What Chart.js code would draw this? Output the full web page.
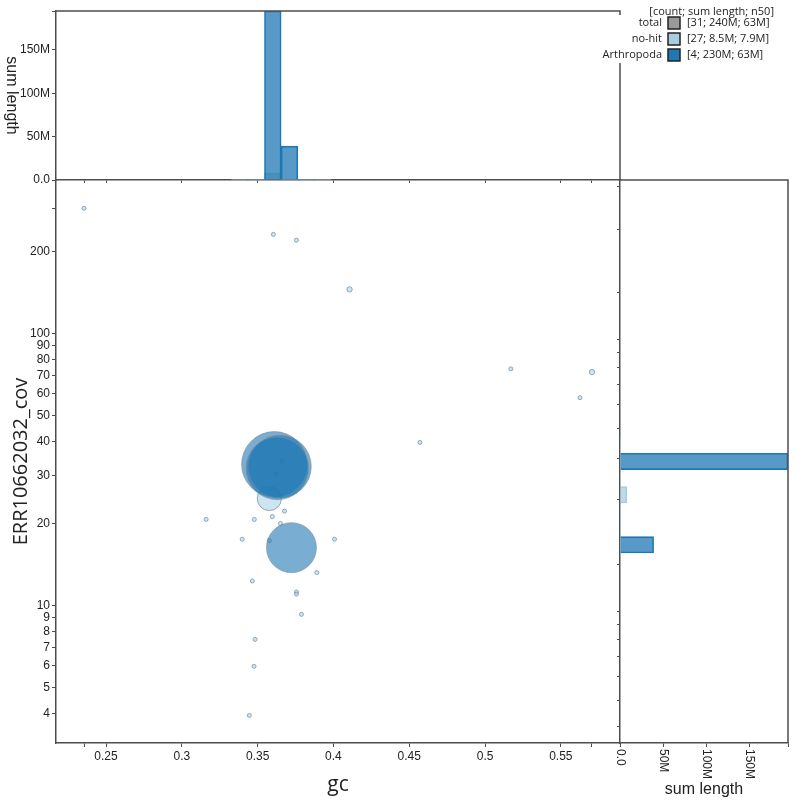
<!DOCTYPE html>
<html>
<head>
<meta charset="utf-8">
<script src="https://cdn.jsdelivr.net/npm/chart.js@4.4.1/dist/chart.umd.min.js"></script>
<style>
    body { margin: 0; background: #fff; }
    #wrap { position: relative; width: 800px; height: 800px; }
    #wrap canvas { position: absolute; left: 0; top: 0; }
</style>
</head>
<body>
<div id="wrap">
    <canvas id="chart_main" width="800" height="800"></canvas>
    <canvas id="chart_top" width="800" height="800"></canvas>
    <canvas id="chart_right" width="800" height="800"></canvas>
</div>
<script>
// contigs, length in Mb
const NOHIT_GC = [0.2355, 0.3604, 0.3756, 0.4106, 0.517, 0.5705, 0.5626, 0.457, 0.3478, 0.3597, 0.3677, 0.365, 0.3398,
    0.3577, 0.4007, 0.389, 0.3465, 0.3756, 0.3756, 0.3789, 0.316, 0.3483, 0.3476, 0.3445, 0.3577, 0.3620, 0.3660];
const NOHIT_COV = [288, 231, 220, 145, 74, 72, 58, 39.7, 20.7, 21.2, 22.2, 20.0, 17.5,
    17.3, 17.5, 13.2, 12.3, 11.2, 11.0, 9.27, 20.7, 7.5, 5.97, 3.94, 24.7, 30.5, 34.0];
const NOHIT_LEN = [0.02, 0.02, 0.02, 0.1, 0.02, 0.1, 0.02, 0.02, 0.02, 0.02, 0.02, 0.02, 0.02,
    0.02, 0.02, 0.02, 0.02, 0.02, 0.02, 0.02, 0.02, 0.02, 0.02, 0.02, 7.9, 0.02, 0.02];
const ARTH_GC = [0.3610, 0.3647, 0.3630, 0.3723];
const ARTH_COV = [33.0, 32.4, 31.9, 16.3];
const ARTH_LEN = [69, 63, 63, 39];

// histogram bins (sum length, Mb)
const GC_BINS = [0.3380, 0.3490, 0.3600, 0.3710, 0.3820, 0.3930];
const GC_BIN_NOHIT = [0.02, 0.10, 8.0, 0.10, 0.02, 0.02];
const GC_BIN_ARTH = [0, 0, 195, 39, 0, 0];
const COV_BINS = [38.9, 33.8, 29.3, 25.5, 22.1, 19.2, 16.7, 14.5];
const COV_BIN_NOHIT = [0.02, 0.02, 0.02, 7.9, 0.08, 0.02, 0.06, 0];
const COV_BIN_ARTH = [0, 195, 0, 0, 0, 0, 39, 0];

// axes
const GC_RANGE = [0.217, 0.589];
const GC_TICKS = [0.25, 0.3, 0.35, 0.4, 0.45, 0.5, 0.55];
const GC_EXTENT = [0.2355, 0.5705];
const COV_RANGE = [3.12, 366];
const COV_TICKS = [4, 5, 6, 7, 8, 9, 10, 20, 30, 40, 50, 60, 70, 80, 90, 100, 200];
const COV_MAX = 288;
const LEN_TICKS = [0, 50, 100, 150];
const LEN_MAX = 195;

const LEGEND_LABELS = ['total', 'no-hit', 'Arthropoda'];
const LEGEND_STATS = ['[31; 240M; 63M]', '[27; 8.5M; 7.9M]', '[4; 230M; 63M]'];
const LEGEND_COLOURS = ['#999999', '#a6cee3', '#1f78b4'];

const AXIS = '#4d4d4d';
const TEXT = '#222';
const TICK_FONT = { family: 'Liberation Sans', size: 12 };

function radius(len) {
    return 1.5 + 3.76 * Math.sqrt(len);
}
function fmtLen(v) {
    return v === 0 ? '0.0' : v + 'M';
}
function setTicks(values) {
    return function (scale) { scale.ticks = values.map(function (v) { return { value: v }; }); };
}
function fixSize(w, h) {
    return function (scale) {
        if (w !== null) scale.width = w;
        if (h !== null) scale.height = h;
        scale.paddingLeft = scale.paddingRight = scale.paddingTop = scale.paddingBottom = 0;
    };
}

const framePlugin = {
    id: 'frame',
    afterDraw(chart) {
        const ctx = chart.ctx, a = chart.chartArea;
        ctx.save();
        ctx.strokeStyle = AXIS;
        ctx.lineWidth = 1.5;
        ctx.beginPath();
        ctx.moveTo(a.left, a.top);
        ctx.lineTo(a.right, a.top);
        ctx.lineTo(a.right, a.bottom);
        ctx.stroke();
        ctx.restore();
    }
};

const common = {
    responsive: false,
    animation: false,
    devicePixelRatio: 1,
    plugins: { legend: { display: false }, tooltip: { enabled: false } }
};

// main blob plot
new Chart(document.getElementById('chart_main'), {
    type: 'bubble',
    data: {
        datasets: [{
            label: 'Arthropoda',
            data: ARTH_GC.map(function (g, i) { return { x: g, y: ARTH_COV[i], r: radius(ARTH_LEN[i]) }; }),
            backgroundColor: 'rgba(31,120,180,0.6)',
            borderColor: 'rgba(130,140,150,0.6)',
            borderWidth: 1
        }, {
            label: 'no-hit',
            data: NOHIT_GC.map(function (g, i) { return { x: g, y: NOHIT_COV[i], r: radius(NOHIT_LEN[i]) }; }),
            backgroundColor: 'rgba(166,206,227,0.55)',
            borderColor: 'rgba(110,140,165,0.7)',
            borderWidth: 1
        }]
    },
    options: Object.assign({}, common, {
        layout: { padding: { left: 0, top: 180, right: 180, bottom: 0 } },
        scales: {
            x: {
                type: 'linear', min: GC_RANGE[0], max: GC_RANGE[1],
                afterBuildTicks: setTicks([GC_EXTENT[0]].concat(GC_TICKS, [GC_EXTENT[1]])),
                afterFit: fixSize(null, 57),
                grid: { drawOnChartArea: false, tickLength: 4, color: AXIS },
                border: { color: AXIS, width: 1.5 },
                ticks: {
                    autoSkip: false, maxRotation: 0, padding: 2, font: TICK_FONT, color: TEXT,
                    callback: function (v) { return GC_TICKS.includes(v) ? String(v) : ''; }
                },
                title: { display: true, text: 'gc', color: TEXT, font: { family: 'Open Sans', size: 21 }, padding: { top: 0, bottom: 2 } }
            },
            y: {
                type: 'logarithmic', min: COV_RANGE[0], max: COV_RANGE[1],
                afterBuildTicks: setTicks(COV_TICKS.concat([COV_MAX])),
                afterFit: fixSize(56, null),
                grid: { drawOnChartArea: false, tickLength: 4, color: AXIS },
                border: { color: AXIS, width: 1.5 },
                ticks: {
                    autoSkip: false, padding: 2, font: TICK_FONT, color: TEXT,
                    callback: function (v) { return COV_TICKS.includes(v) ? String(v) : ''; }
                },
                title: { display: true, text: 'ERR10662032_cov', color: TEXT, font: { family: 'Open Sans', size: 20 }, padding: { top: 9, bottom: 0 } }
            }
        }
    })
});

// gc histogram (top); first dataset is drawn on top
new Chart(document.getElementById('chart_top'), {
    type: 'bar',
    data: {
        datasets: [{
            label: 'Arthropoda',
            data: GC_BINS.map(function (c, i) { return { x: c, y: GC_BIN_ARTH[i] }; }),
            backgroundColor: 'rgba(31,120,180,0.75)',
            borderColor: '#1f78b4',
            borderWidth: 1
        }, {
            label: 'no-hit',
            data: GC_BINS.map(function (c, i) { return { x: c, y: GC_BIN_NOHIT[i] }; }),
            backgroundColor: 'rgba(166,206,227,0.75)',
            borderColor: '#a6cee3',
            borderWidth: 1
        }]
    },
    options: Object.assign({}, common, {
        datasets: { bar: { grouped: false, barPercentage: 1, categoryPercentage: 1 } },
        layout: { padding: { left: 0, top: 11, right: 180, bottom: 620 } },
        scales: {
            x: {
                type: 'linear', min: GC_RANGE[0], max: GC_RANGE[1], offset: false,
                afterBuildTicks: setTicks([GC_EXTENT[0]].concat(GC_TICKS, [GC_EXTENT[1]])),
                afterFit: fixSize(null, 0),
                grid: { offset: false, drawOnChartArea: false, tickLength: 3, color: AXIS },
                border: { color: AXIS, width: 1.5 },
                ticks: { display: false }
            },
            y: {
                type: 'linear', min: 0, max: LEN_MAX,
                afterBuildTicks: setTicks(LEN_TICKS.concat([LEN_MAX])),
                afterFit: fixSize(56, null),
                grid: { drawOnChartArea: false, tickLength: 4, color: AXIS },
                border: { color: AXIS, width: 1.5 },
                ticks: {
                    autoSkip: false, padding: 2, font: TICK_FONT, color: TEXT,
                    callback: function (v) { return LEN_TICKS.includes(v) ? fmtLen(v) : ''; }
                }
            }
        }
    }),
    plugins: [framePlugin, {
        id: 'sideTitle',
        afterDraw(chart) {
            const ctx = chart.ctx, a = chart.chartArea;
            ctx.save();
            ctx.font = '16px "Liberation Sans"';
            ctx.fillStyle = TEXT;
            ctx.textAlign = 'center';
            ctx.textBaseline = 'middle';
            ctx.translate(11, (a.top + a.bottom) / 2);
            ctx.rotate(Math.PI / 2);
            ctx.fillText('sum length', 0, 0);
            ctx.restore();
        }
    }]
});

// coverage histogram (right) + legend
new Chart(document.getElementById('chart_right'), {
    type: 'bar',
    data: {
        datasets: [{
            label: 'Arthropoda',
            data: COV_BINS.map(function (c, i) { return { y: c, x: COV_BIN_ARTH[i] }; }),
            backgroundColor: 'rgba(31,120,180,0.75)',
            borderColor: '#1f78b4',
            borderWidth: 1
        }, {
            label: 'no-hit',
            data: COV_BINS.map(function (c, i) { return { y: c, x: COV_BIN_NOHIT[i] }; }),
            backgroundColor: 'rgba(166,206,227,0.75)',
            borderColor: '#a6cee3',
            borderWidth: 1
        }]
    },
    options: Object.assign({}, common, {
        indexAxis: 'y',
        datasets: { bar: { grouped: false, barPercentage: 1, categoryPercentage: 1 } },
        layout: { padding: { left: 620, top: 180, right: 12, bottom: 0 } },
        scales: {
            y: {
                type: 'logarithmic', min: COV_RANGE[0], max: COV_RANGE[1], offset: false, display: false,
                afterBuildTicks: setTicks(COV_BINS),
                grid: { offset: false }
            },
            yAxis: {
                type: 'logarithmic', axis: 'y', position: 'left', min: COV_RANGE[0], max: COV_RANGE[1],
                afterBuildTicks: setTicks(COV_TICKS.concat([COV_MAX])),
                afterFit: fixSize(0, null),
                grid: { drawOnChartArea: false, tickLength: 3, color: AXIS },
                border: { color: AXIS, width: 1.5 },
                ticks: { display: false }
            },
            x: {
                type: 'linear', min: 0, max: LEN_MAX,
                afterBuildTicks: setTicks(LEN_TICKS.concat([LEN_MAX])),
                afterFit: fixSize(null, 57),
                grid: { drawOnChartArea: false, tickLength: 4, color: AXIS },
                border: { color: AXIS, width: 1.5 },
                ticks: { display: false },
                title: { display: true, text: 'sum length', color: TEXT, font: { family: 'Liberation Sans', size: 16 }, padding: { top: 0, bottom: 1 } }
            }
        }
    }),
    plugins: [framePlugin, {
        id: 'rotatedTicks',
        afterDraw(chart) {
            const ctx = chart.ctx, sx = chart.scales.x;
            ctx.save();
            ctx.font = '12px "Liberation Sans"';
            ctx.fillStyle = TEXT;
            ctx.textAlign = 'left';
            ctx.textBaseline = 'middle';
            LEN_TICKS.forEach(function (v) {
                ctx.save();
                ctx.translate(sx.getPixelForValue(v), sx.top + 6);
                ctx.rotate(Math.PI / 2);
                ctx.fillText(fmtLen(v), 0, 0);
                ctx.restore();
            });
            ctx.restore();
        }
    }, {
        id: 'blobLegend',
        afterDraw(chart) {
            const ctx = chart.ctx;
            ctx.save();
            ctx.fillStyle = '#fff';
            ctx.fillRect(600, 15, 180, 48);
            ctx.font = '11px "Open Sans"';
            ctx.fillStyle = TEXT;
            ctx.textBaseline = 'middle';
            ctx.textAlign = 'right';
            ctx.fillText('[count; sum length; n50]', 774, 12);
            LEGEND_LABELS.forEach(function (label, i) {
                const y = 23 + i * 16;
                ctx.fillStyle = TEXT;
                ctx.textAlign = 'right';
                ctx.fillText(label, 662, y);
                ctx.fillStyle = LEGEND_COLOURS[i];
                ctx.fillRect(668, y - 6, 12, 12);
                ctx.strokeStyle = '#222';
                ctx.lineWidth = 1.5;
                ctx.strokeRect(668, y - 6, 12, 12);
                ctx.fillStyle = TEXT;
                ctx.textAlign = 'left';
                ctx.fillText(LEGEND_STATS[i], 687, y);
            });
            ctx.restore();
        }
    }]
});
</script>
</body>
</html>
